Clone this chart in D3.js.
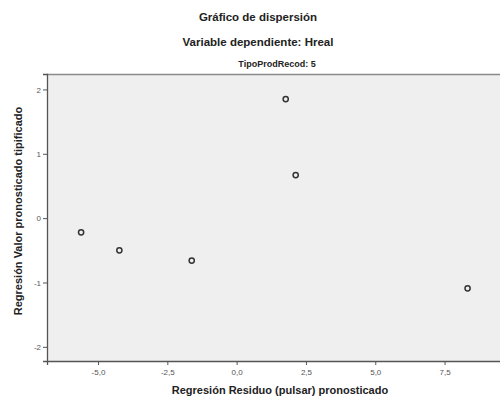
<!DOCTYPE html>
<html><head><meta charset="utf-8">
<script src="https://cdn.jsdelivr.net/npm/d3@7"></script>
<style>body{margin:0;background:#fff}svg{display:block}</style>
</head><body>
<svg id="c" width="500" height="398"></svg>
<script>
const residuo = [-5.61, -4.23, -1.62, 1.77, 2.13, 8.33];
const pronosticado = [-0.22, -0.50, -0.66, 1.85, 0.67, -1.09];
const xTicks = [-5, -2.5, 0, 2.5, 5, 7.5];
const yTicks = [-2, -1, 0, 1, 2];
const titulo = "Gráfico de dispersión";
const subtitulo = "Variable dependiente: Hreal";
const panel = "TipoProdRecod: 5";
const xTitulo = "Regresión Residuo (pulsar) pronosticado";
const yTitulo = "Regresión Valor pronosticado tipificado";

const svg = d3.select("#c");
const L = 47, R = 510, T = 74, B = 361;
const x = d3.scaleLinear().domain([-6.84, 9.86]).range([L, R]);
const y = d3.scaleLinear().domain([-2.22, 2.24]).range([B, T]);
const font = "'Liberation Sans', Arial, sans-serif";

svg.append("rect").attr("x", L).attr("y", T).attr("width", R - L).attr("height", B - T)
  .attr("fill", "#efefef");
svg.append("line").attr("x1", L).attr("x2", R).attr("y1", T + 0.5).attr("y2", T + 0.5)
  .attr("stroke", "#8a8a8a").attr("stroke-width", 1.5);

const fmt = v => d3.format(".1f")(v).replace(".", ",").replace("−", "-");
const xa = svg.append("g").attr("transform", `translate(0,${B})`)
  .call(d3.axisBottom(x).tickValues(xTicks).tickFormat(fmt).tickSizeOuter(0).tickSize(4).tickPadding(4));
const ya = svg.append("g").attr("transform", `translate(${L},0)`)
  .call(d3.axisLeft(y).tickValues(yTicks).tickFormat(d => String(d)).tickSizeOuter(0).tickSize(4).tickPadding(2));
[xa, ya].forEach(g => {
  g.select(".domain").attr("stroke", "#555").attr("stroke-width", 1.3);
  g.selectAll(".tick line").attr("stroke", "#555");
  g.selectAll(".tick text").attr("fill", "#555").attr("font-size", 8).attr("font-family", font);
});

svg.append("g").selectAll("circle").data(residuo).join("circle")
  .attr("cx", (d, i) => x(d)).attr("cy", (d, i) => y(pronosticado[i])).attr("r", 2.6)
  .attr("fill", "none").attr("stroke", "#333").attr("stroke-width", 1.5);

svg.append("text").attr("x", 258).attr("y", 21).attr("text-anchor", "middle")
  .attr("font-family", font).attr("font-weight", "bold").attr("font-size", 11.5).attr("fill", "#222").text(titulo);
svg.append("text").attr("x", 258).attr("y", 46).attr("text-anchor", "middle")
  .attr("font-family", font).attr("font-weight", "bold").attr("font-size", 11.5).attr("fill", "#222").text(subtitulo);
svg.append("text").attr("x", 277).attr("y", 66.5).attr("text-anchor", "middle")
  .attr("font-family", font).attr("font-weight", "bold").attr("font-size", 9).attr("fill", "#222").text(panel);
svg.append("text").attr("x", 280).attr("y", 394).attr("text-anchor", "middle")
  .attr("font-family", font).attr("font-weight", "bold").attr("font-size", 11).attr("fill", "#222").text(xTitulo);
svg.append("text").attr("transform", "translate(22,211) rotate(-90)").attr("text-anchor", "middle")
  .attr("font-family", font).attr("font-weight", "bold").attr("font-size", 11).attr("fill", "#222").text(yTitulo);
</script>
</body></html>
